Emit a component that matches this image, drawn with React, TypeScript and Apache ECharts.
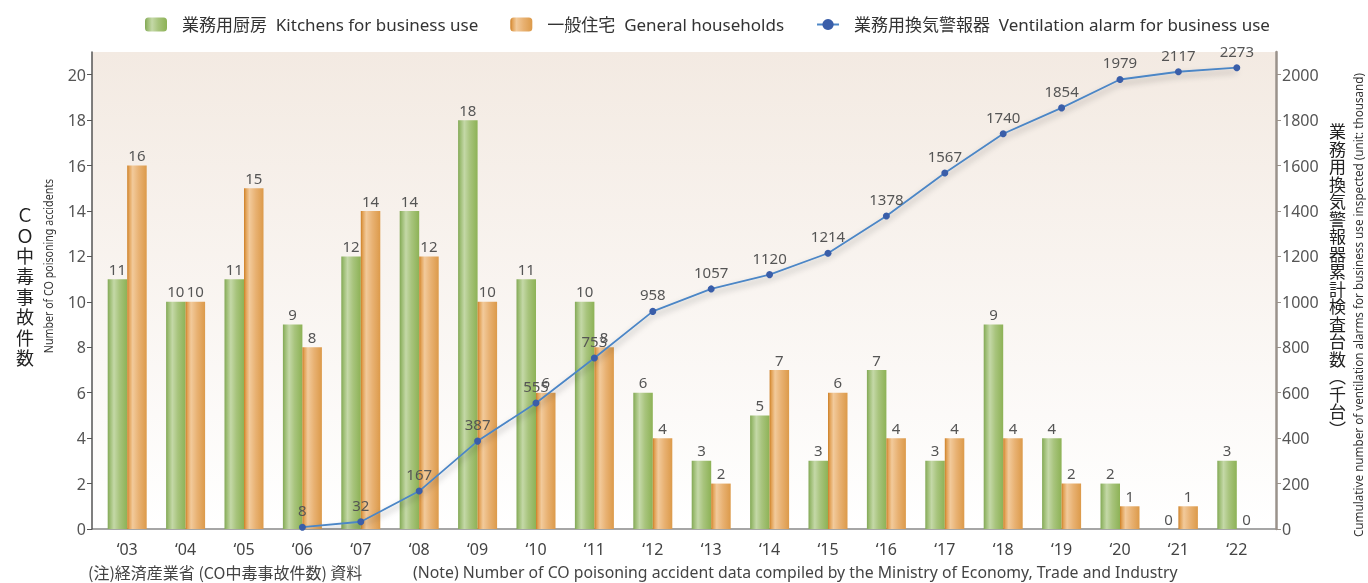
import React, { useEffect, useRef } from 'react';
import * as echarts from 'echarts';

const years = ['‘03', '‘04', '‘05', '‘06', '‘07', '‘08', '‘09', '‘10', '‘11', '‘12', '‘13', '‘14', '‘15', '‘16', '‘17', '‘18', '‘19', '‘20', '‘21', '‘22'];
const kitchens = [11, 10, 11, 9, 12, 14, 18, 11, 10, 6, 3, 5, 3, 7, 3, 9, 4, 2, 0, 3];
const households = [16, 10, 15, 8, 14, 12, 10, 6, 8, 4, 2, 7, 6, 4, 4, 4, 2, 1, 1, 0];
// printed cumulative counts (thousand units)
const alarmLabels = [null, null, null, 8, 32, 167, 387, 555, 753, 958, 1057, 1120, 1214, 1378, 1567, 1740, 1854, 1979, 2117, 2273];
// heights at which the points are drawn in the reference (last two are compressed under the axis top)
const alarmDrawn = [null, null, null, 8, 32, 167, 387, 555, 753, 958, 1057, 1120, 1214, 1378, 1567, 1740, 1854, 1979, 2013, 2031];

const leftTicks = { min: 0, max: 21, interval: 2 };
const rightTicks = { min: 0, max: 2100, interval: 200 };

const nameKitchen = '業務用厨房  Kitchens for business use';
const nameHouse = '一般住宅  General households';
const nameAlarm = '業務用換気警報器  Ventilation alarm for business use';

const FONT = '"Noto Sans", "Noto Sans CJK JP", sans-serif';

export default function App() {
  const ref = useRef<HTMLDivElement>(null);
  useEffect(() => {
    if (!ref.current) return;
    const chart = echarts.init(ref.current, null, { renderer: 'svg' });
    const green = new echarts.graphic.LinearGradient(0, 0, 1, 0, [
      { offset: 0, color: '#82a855' },
      { offset: 0.12, color: '#9dbd74' },
      { offset: 0.32, color: '#c4d8a7' },
      { offset: 0.6, color: '#a8c47d' },
      { offset: 1, color: '#8db256' },
    ]);
    const orange = new echarts.graphic.LinearGradient(0, 0, 1, 0, [
      { offset: 0, color: '#cc7f26' },
      { offset: 0.1, color: '#e2a257' },
      { offset: 0.28, color: '#f2ca9b' },
      { offset: 0.6, color: '#e8b172' },
      { offset: 1, color: '#dc9a4a' },
    ]);
    const labelStyle = { show: true, position: 'top', color: '#555', fontSize: 15, distance: 3, fontFamily: FONT };
    chart.setOption({
      animation: false,
      textStyle: { fontFamily: FONT },
      legend: {
        top: 11,
        left: 140,
        itemGap: 32,
        itemWidth: 22,
        itemHeight: 14,
        textStyle: { fontSize: 17, color: '#333', fontFamily: FONT, padding: [0, 0, 0, 10] },
        data: [nameKitchen, nameHouse, nameAlarm],
      },
      grid: {
        left: 98,
        right: 102,
        top: 52,
        bottom: 54,
      },
      xAxis: {
        type: 'category',
        data: years,
        axisLine: { show: false },
        axisTick: { show: false },
        axisLabel: { color: '#444', fontSize: 16, margin: 12 },
      },
      yAxis: [
        {
          type: 'value',
          min: leftTicks.min,
          max: leftTicks.max,
          interval: leftTicks.interval,
          offset: 6,
          axisLine: { show: true, lineStyle: { color: '#555', width: 1.5 } },
          axisTick: { show: true, length: 5, lineStyle: { color: '#555' } },
          axisLabel: { color: '#555', fontSize: 16, showMaxLabel: false, margin: 6 },
          splitLine: { show: false },
        },
        {
          type: 'value',
          min: rightTicks.min,
          max: rightTicks.max,
          interval: rightTicks.interval,
          position: 'right',
          offset: 10,
          axisLine: { show: true, lineStyle: { color: '#9a928b', width: 2.5 } },
          axisTick: { show: true, length: 5, lineStyle: { color: '#9a928b' } },
          axisLabel: { color: '#555', fontSize: 16, showMaxLabel: false, margin: 6, formatter: (v: number) => String(v) },
          splitLine: { show: false },
        },
      ],
      series: [
        {
          name: nameKitchen,
          type: 'bar',
          data: kitchens,
          barWidth: 19.5,
          barGap: '0%',
          itemStyle: { color: green },
          label: labelStyle,
        },
        {
          name: nameHouse,
          type: 'bar',
          data: households,
          barWidth: 19.5,
          barGap: '0%',
          itemStyle: { color: orange },
          label: labelStyle,
        },
        {
          name: nameAlarm,
          type: 'line',
          yAxisIndex: 1,
          data: alarmDrawn.map((v, i) => (v == null ? null : { value: v, label: { formatter: String(alarmLabels[i]) } })),
          symbol: 'circle',
          symbolSize: 7,
          lineStyle: { color: '#4c86c6', width: 1.8, shadowColor: 'rgba(0,0,0,0.35)', shadowBlur: 6, shadowOffsetY: 4 },
          itemStyle: { color: '#3a5ea9' },
          label: { show: true, position: 'top', color: '#555', fontSize: 15, distance: 6, fontFamily: FONT },
          z: 5,
        },
      ],
      graphic: [
        {
          type: 'rect',
          z: -100,
          silent: true,
          shape: { x: 92, y: 52, width: 1184, height: 477 },
          style: {
            fill: new echarts.graphic.LinearGradient(0, 0, 0, 1, [
              { offset: 0, color: '#f3eae2' },
              { offset: 1, color: '#ffffff' },
            ]),
          },
        },
        {
          type: 'line',
          silent: true,
          shape: { x1: 92, y1: 529, x2: 1276, y2: 529 },
          style: { stroke: '#888', lineWidth: 1.5 },
        },
        {
          type: 'text',
          left: 16,
          top: 204,
          style: {
            text: 'Ｃ\nＯ\n中\n毒\n事\n故\n件\n数',
            fontSize: 18,
            fontFamily: '"Noto Sans CJK JP"',
            lineHeight: 20.4,
            fill: '#222',
            textAlign: 'center',
          },
        },
        {
          type: 'text',
          x: 48,
          y: 266,
          rotation: Math.PI / 2,
          scaleX: 0.82,
          style: {
            text: 'Number of CO poisoning accidents',
            fontSize: 13,
            fontFamily: '"Noto Sans"',
            fill: '#333',
            align: 'center',
            verticalAlign: 'middle',
          },
        },
        {
          type: 'text',
          left: 1329,
          top: 122,
          style: {
            text: '業\n務\n用\n換\n気\n警\n報\n器\n累\n計\n検\n査\n台\n数\n︵\n千\n台\n︶',
            fontSize: 17,
            fontFamily: '"Noto Sans CJK JP"',
            lineHeight: 17.5,
            fill: '#222',
            textAlign: 'center',
          },
        },
        {
          type: 'text',
          x: 1358,
          y: 305,
          rotation: Math.PI / 2,
          scaleX: 0.9,
          style: {
            text: 'Cumulative number of ventilation alarms for business use inspected (unit: thousand)',
            fontSize: 13,
            fontFamily: '"Noto Sans"',
            fill: '#333',
            align: 'center',
            verticalAlign: 'middle',
          },
        },
        {
          type: 'text',
          left: 88,
          top: 564,
          style: {
            text: '(注)経済産業省 (CO中毒事故件数) 資料',
            fontSize: 16,
            fontFamily: '"Noto Sans CJK JP"',
            fill: '#444',
          },
        },
        {
          type: 'text',
          left: 413,
          top: 564,
          style: {
            text: '(Note) Number of CO poisoning accident data compiled by the Ministry of Economy, Trade and Industry',
            fontSize: 15.8,
            fontFamily: '"Noto Sans"',
            fill: '#444',
          },
        },
      ],
    });
    return () => chart.dispose();
  }, []);
  return <div ref={ref} style={{ position: 'fixed', left: 0, top: 0, width: 1368, height: 583 }} />;
}
